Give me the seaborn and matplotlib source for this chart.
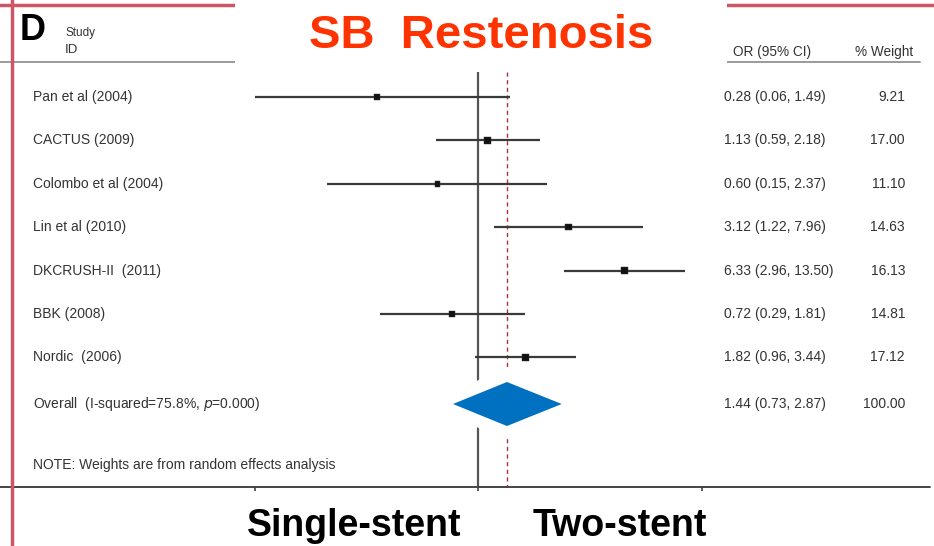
import numpy as np
import pandas as pd
import matplotlib
matplotlib.use("Agg")
import matplotlib.pyplot as plt
from matplotlib.patches import Rectangle, Polygon
import seaborn as sns

# Study-level odds ratios for side-branch restenosis
studies = ["Pan et al (2004)", "CACTUS (2009)", "Colombo et al (2004)",
           "Lin et al (2010)", "DKCRUSH-II  (2011)", "BBK (2008)", "Nordic  (2006)"]
odds_ratio = [0.28, 1.13, 0.60, 3.12, 6.33, 0.72, 1.82]
ci_low = [0.06, 0.59, 0.15, 1.22, 2.96, 0.29, 0.96]
ci_high = [1.49, 2.18, 2.37, 7.96, 13.50, 1.81, 3.44]
weights = [9.21, 17.00, 11.10, 14.63, 16.13, 14.81, 17.12]
or_labels = ["0.28 (0.06, 1.49)", "1.13 (0.59, 2.18)", "0.60 (0.15, 2.37)",
             "3.12 (1.22, 7.96)", "6.33 (2.96, 13.50)", "0.72 (0.29, 1.81)",
             "1.82 (0.96, 3.44)"]
weight_labels = ["9.21", "17.00", "11.10", "14.63", "16.13", "14.81", "17.12"]

# Pooled random-effects estimate
overall_or = 1.44
overall_low = 0.73
overall_high = 2.87
overall_label = "1.44 (0.73, 2.87)"
overall_weight = "100.00"

x_ticks = [0.06, 1, 16.7]

sns.set_theme(style="white")
plt.rcParams["font.family"] = ["Liberation Sans", "DejaVu Sans"]

W, H = 934, 546
fig = plt.figure(figsize=(W / 100, H / 100), dpi=100)
fig.patch.set_facecolor("white")

# Forest panel: log-odds on x, row index on y
ax = fig.add_axes([0, 0, 1, 1])
ax.set_xscale("log")
px_per_ln = 79.4
x0 = 478
ax.set_xlim(np.exp(-x0 / px_per_ln), np.exp((W - x0) / px_per_ln))
row0, row_h = 97, 43.4
ax.set_ylim((H - row0) / row_h, (0 - row0) / row_h)
ax.axis("off")


def row_of(px):
    return (px - row0) / row_h


def x_at(px):
    return np.exp((px - x0) / px_per_ln)


df = pd.DataFrame({"study": studies, "or": odds_ratio, "lo": ci_low,
                   "hi": ci_high, "w": weights, "row": np.arange(len(studies))})

line_col = "#3a3a3a"
# Null line and pooled-estimate line
ax.vlines(1, row_of(72), row_of(487), color="#555555", lw=1.6, zorder=1)
ax.vlines(overall_or, row_of(72), row_of(487), color="#b03040", lw=1.0,
          linestyles=(0, (3, 2.5)), zorder=1)

# Confidence intervals and weighted point estimates
ax.hlines(df["row"], df["lo"], df["hi"], color=line_col, lw=1.6, zorder=2)
sns.scatterplot(data=df, x="or", y="row", size="w", sizes=(14, 24),
                marker="s", color="#111111", edgecolor="#333333",
                legend=False, ax=ax, zorder=3)

# Pooled diamond with a white halo
y_ov = row_of(404)
dh = 22 / row_h
verts = [(overall_low, y_ov), (overall_or, y_ov - dh),
         (overall_high, y_ov), (overall_or, y_ov + dh)]
ax.add_patch(Polygon(verts, closed=True, facecolor="white", edgecolor="white",
                     lw=18, joinstyle="round", zorder=4))
ax.add_patch(Polygon(verts, closed=True, facecolor="#0070c0",
                     edgecolor="none", zorder=5))

# Header rule and x axis line
ax.plot([x_at(0), x_at(920)], [row_of(62)] * 2, color="#9a9a9a", lw=1.4, zorder=1)
ax.plot([x_at(0), x_at(930)], [row_of(487)] * 2, color="#444444", lw=1.4, zorder=1)
for t in x_ticks:
    ax.plot([t, t], [row_of(487), row_of(492)], color="#444444", lw=1.2)

# Text columns
txt_col = "#333333"
fs = 10
for i, r in df.iterrows():
    ax.text(x_at(33), r["row"], r["study"], fontsize=fs,
            color=txt_col, va="center", ha="left")
    ax.text(x_at(724), r["row"], or_labels[i], fontsize=fs,
            color=txt_col, va="center", ha="left")
    ax.text(x_at(905), r["row"], weight_labels[i],
            fontsize=fs, color=txt_col, va="center", ha="right")

ax.text(x_at(33), y_ov, "Overall  (I-squared=75.8%, $\\mathit{p}$=0.000)",
        fontsize=fs, color=txt_col, va="center", ha="left")
ax.text(x_at(724), y_ov, overall_label, fontsize=fs,
        color=txt_col, va="center", ha="left")
ax.text(x_at(905), y_ov, overall_weight, fontsize=fs,
        color=txt_col, va="center", ha="right")
ax.text(x_at(33), row_of(465), "NOTE: Weights are from random effects analysis",
        fontsize=fs, color=txt_col, va="center", ha="left")

# Decoration layer in pixel coordinates
deco = fig.add_axes([0, 0, 1, 1])
deco.set_xlim(0, W)
deco.set_ylim(H, 0)
deco.axis("off")
deco.patch.set_alpha(0)

deco.text(65, 33, "Study", fontsize=8.5, color=txt_col, va="center", ha="left")
deco.text(65, 50, "ID", fontsize=9.5, color=txt_col, va="center", ha="left")
deco.text(733, 52, "OR (95% CI)", fontsize=9.8, color=txt_col, va="center", ha="left")
deco.text(855, 52, "% Weight", fontsize=9.8, color=txt_col, va="center", ha="left")
deco.text(20, 30, "D", fontsize=26, fontweight="bold", color="black",
          va="center", ha="left")

# Slide frame lines
deco.plot([0, W], [5, 5], color="#cc5566", lw=2.5, zorder=1)
deco.plot([12, 12], [0, H], color="#cc5566", lw=2.5, zorder=1)

# Title and group labels on white boxes
deco.add_patch(Rectangle((235, 0), 492, 72, facecolor="white",
                         edgecolor="none", zorder=5))
deco.text(481, 36, "SB  Restenosis", fontsize=34, fontweight="bold",
          color="#ff3300", va="center", ha="center", zorder=6)
deco.add_patch(Rectangle((232, 491), 495, 55, facecolor="white",
                         edgecolor="none", zorder=5))
deco.text(354, 526, "Single-stent", fontsize=27, fontweight="bold",
          color="black", va="center", ha="center", zorder=6)
deco.text(620, 526, "Two-stent", fontsize=27, fontweight="bold",
          color="black", va="center", ha="center", zorder=6)

fig.savefig("out.png", dpi=100)
